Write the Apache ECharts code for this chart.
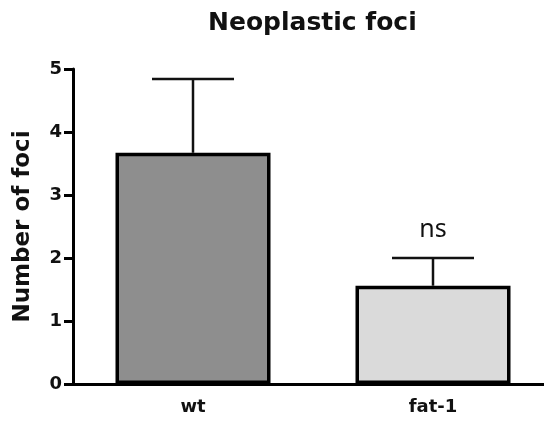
<!DOCTYPE html>
<html>
<head>
<meta charset="utf-8">
<script src="https://cdn.jsdelivr.net/npm/echarts@6/dist/echarts.min.js"></script>
<style>
  html, body { margin: 0; padding: 0; background: #fff; }
  #chart { width: 544px; height: 423px; }
</style>
</head>
<body>
<div id="chart"></div>
<script>
// 数据
var categories = ['wt', 'fat-1'];
var means = [3.67, 1.56];
var errUpper = [4.84, 2.0];
var barColors = ['#8e8e8e', '#dadada'];
var annotations = ['', 'ns'];
var yTicks = [0, 1, 2, 3, 4, 5];

var BOLD_FONT = 'DejaVu Sans';

var chart = echarts.init(document.getElementById('chart'));

var option = {
  animation: false,
  title: {
    text: 'Neoplastic foci',
    left: 203,
    top: 6,
    textStyle: { fontFamily: BOLD_FONT, fontWeight: 'bold', fontSize: 25, color: '#111' }
  },
  grid: { left: 73, top: 69, width: 480, height: 315, outerBoundsMode: 'none', containLabel: false },
  xAxis: {
    type: 'category',
    data: categories,
    axisLine: { lineStyle: { color: '#000', width: 3 } },
    axisTick: { alignWithLabel: true, length: 8, lineStyle: { width: 3, color: '#000' } },
    axisLabel: { margin: 14, fontFamily: BOLD_FONT, fontWeight: 'bold', fontSize: 18, color: '#111' }
  },
  yAxis: {
    type: 'value',
    min: yTicks[0],
    max: yTicks[yTicks.length - 1],
    interval: 1,
    name: 'Number of foci',
    nameLocation: 'middle',
    nameGap: 38,
    nameTextStyle: { fontFamily: BOLD_FONT, fontWeight: 'bold', fontSize: 23, color: '#111' },
    axisLine: { show: true, lineStyle: { color: '#000', width: 3 } },
    axisTick: { show: true, length: 9, lineStyle: { width: 3, color: '#000' } },
    axisLabel: { margin: 11, fontFamily: BOLD_FONT, fontWeight: 'bold', fontSize: 18, color: '#111' },
    splitLine: { show: false }
  },
  series: [
    {
      type: 'custom',
      z: 1,
      data: categories.map(function (c, i) { return [i, means[i], errUpper[i]]; }),
      renderItem: function (params, api) {
        var idx = api.value(0);
        var low = api.coord([idx, api.value(1)]);
        var high = api.coord([idx, api.value(2)]);
        var half = 41;
        var style = { stroke: '#111', lineWidth: 2.5 };
        var children = [
          { type: 'line', shape: { x1: low[0], y1: low[1], x2: high[0], y2: high[1] }, style: style },
          { type: 'line', shape: { x1: high[0] - half, y1: high[1], x2: high[0] + half, y2: high[1] }, style: style }
        ];
        var txt = annotations[params.dataIndex];
        if (txt) {
          children.push({
            type: 'text',
            style: {
              text: txt, x: high[0], y: high[1] - 28,
              align: 'center', verticalAlign: 'middle',
              fontFamily: 'Noto Sans', fontSize: 25, fill: '#111'
            }
          });
        }
        return { type: 'group', children: children };
      }
    },
    {
      type: 'bar',
      z: 2,
      barWidth: 155,
      data: means.map(function (v, i) {
        return { value: v, itemStyle: { color: barColors[i] } };
      }),
      itemStyle: { borderColor: '#000', borderWidth: 3.5 }
    }
  ]
};

chart.setOption(option);
</script>
</body>
</html>
